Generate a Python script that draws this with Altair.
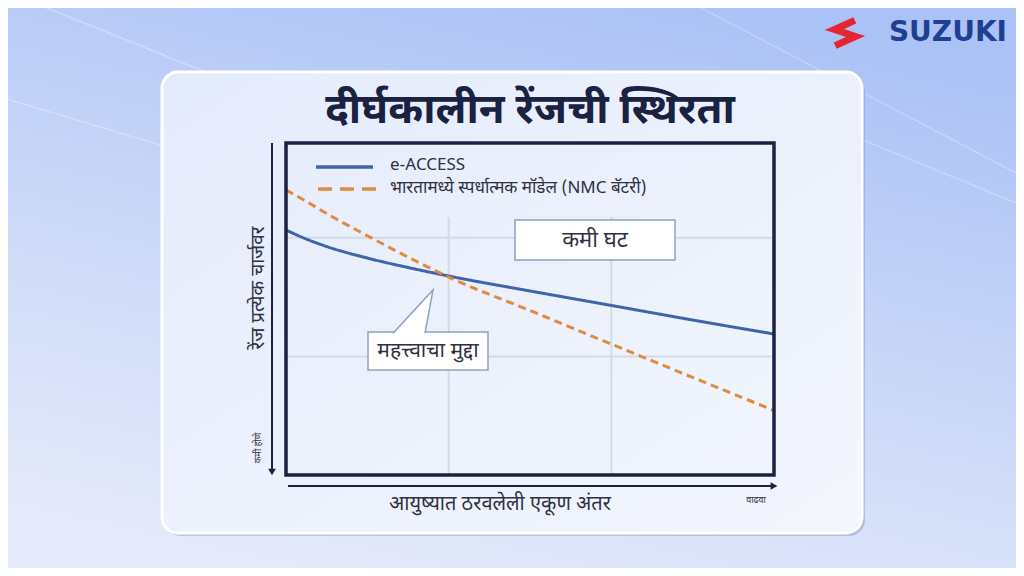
import altair as alt
import pandas as pd

# ---------------- data ----------------
series_names = ["e-ACCESS", "भारतामध्ये स्पर्धात्मक मॉडेल (NMC बॅटरी)"]
distance = [0, 0.125, 0.25, 0.5, 0.75, 1, 1.5, 2, 2.5, 3]
eaccess_range = [2.066, 1.990, 1.927, 1.830, 1.750, 1.678, 1.552, 1.430, 1.307, 1.189]
nmc_range = [2.404, 2.307, 2.205, 2.018, 1.838, 1.669, 1.387, 1.104, 0.823, 0.544]
grid_x = [1, 2]
grid_y = [1, 2]

title_text = "दीर्घकालीन रेंजची स्थिरता"
y_label = "रेंज प्रत्येक चार्जवर"
y_small = "कमी होणे"
x_label = "आयुष्यात ठरवलेली एकूण अंतर"
x_small = "वाढवा"
note_low = "कमी घट"
note_key = "महत्त्वाचा मुद्दा"
brand = "SUZUKI"

# ---------------- style ----------------
W, H = 488, 332
PAD = {"left": 278, "top": 135, "right": 1008 - 278 - W, "bottom": 560 - 135 - H}
FONT = "Noto Sans Devanagari, Noto Sans, sans-serif"
NAVY = "#1b2140"
BLUE = "#3f65a8"
ORANGE = "#e08a3e"
GRID = "#d3dae8"
TXT = "#2f3140"

one = pd.DataFrame({"k": [0]})

rows = []
for d, v in zip(distance, eaccess_range):
    rows.append({"distance": d, "range": v, "series": series_names[0]})
for d, v in zip(distance, nmc_range):
    rows.append({"distance": d, "range": v, "series": series_names[1]})
lines_df = pd.DataFrame(rows)

xs = alt.Scale(domain=[0, 3])
ys = alt.Scale(domain=[0, 2.8])


def box(x, x2, y, y2, **kw):
    return alt.Chart(one).mark_rect(**kw).encode(
        x=alt.value(x), x2=alt.value(x2), y=alt.value(y), y2=alt.value(y2))


def rule(x, x2, y, y2, **kw):
    return alt.Chart(one).mark_rule(**kw).encode(
        x=alt.value(x), x2=alt.value(x2), y=alt.value(y), y2=alt.value(y2))


def text(s, x, y, **kw):
    return alt.Chart(pd.DataFrame({"t": [s]})).mark_text(**kw).encode(
        x=alt.value(x), y=alt.value(y), text="t:N")


bg = box(-278, 730, -135, 425, fill=alt.Gradient(
    gradient="linear",
    stops=[alt.GradientStop(color="#abc2f6", offset=0),
           alt.GradientStop(color="#c9d7f8", offset=0.5),
           alt.GradientStop(color="#e4eafa", offset=1)],
    x1=0.7, y1=0, x2=0.3, y2=1))

streaks = alt.layer(
    rule(-259, 120, -143, 10, color="white", strokeWidth=1.2, opacity=0.35),
    rule(-286, 0, -46, 40, color="white", strokeWidth=1.2, opacity=0.3),
    rule(400, 730, -143, 30, color="white", strokeWidth=1.2, opacity=0.3),
    rule(560, 730, -10, 60, color="white", strokeWidth=1.2, opacity=0.3),
)

shadow = box(-121, 579, -67, 393, fill="#8e9ab3", opacity=0.45, cornerRadius=16)
card = box(-124, 576, -71, 390, cornerRadius=16, stroke="white", strokeWidth=3,
           fill=alt.Gradient(gradient="linear",
                             stops=[alt.GradientStop(color="#e4ebfb", offset=0),
                                    alt.GradientStop(color="#f3f6fd", offset=1)],
                             x1=0, y1=0, x2=1, y2=1))

vgrid = alt.Chart(pd.DataFrame({"distance": grid_x})).mark_rule(
    color=GRID, strokeWidth=2).encode(
    x=alt.X("distance:Q", scale=xs, axis=None), y=alt.value(74), y2=alt.value(H))
hgrid = alt.Chart(pd.DataFrame({"range": grid_y})).mark_rule(
    color=GRID, strokeWidth=2).encode(
    y=alt.Y("range:Q", scale=ys, axis=None), x=alt.value(0), x2=alt.value(W))

lines = alt.Chart(lines_df).mark_line(strokeWidth=3, interpolate="monotone").encode(
    x=alt.X("distance:Q", scale=xs, axis=None),
    y=alt.Y("range:Q", scale=ys, axis=None),
    color=alt.Color("series:N", scale=alt.Scale(domain=series_names, range=[BLUE, ORANGE]),
                    legend=None),
    strokeDash=alt.StrokeDash("series:N",
                              scale=alt.Scale(domain=series_names, range=[[1, 0], [8, 5]]),
                              legend=None),
)

frame = box(0, W, 0, H, fillOpacity=0, stroke=NAVY, strokeWidth=3.5)

legend = alt.layer(
    rule(30, 87, 24, 24, color=BLUE, strokeWidth=3.5),
    rule(32, 90, 46, 46, color=ORANGE, strokeWidth=3.5, strokeDash=[14, 8]),
    text(series_names[0], 104, 22, align="left", baseline="middle", font=FONT,
         fontSize=17, color=TXT),
    text(series_names[1], 104, 45, align="left", baseline="middle", font=FONT,
         fontSize=17, color=TXT),
)

callout_low = alt.layer(
    box(229, 389, 77, 117, fill="white", stroke="#8fa2c2", strokeWidth=1.5),
    text(note_low, 309, 97, align="center", baseline="middle", font=FONT,
         fontSize=22, color=TXT),
)

callout_key = alt.layer(
    box(82, 202, 189, 227, fill="white", stroke="#8fa2c2", strokeWidth=1.5),
    alt.Chart(one).mark_point(
        shape="M-0.952,1.06 L0.952,-1 L0.571,1.06", filled=True, fill="white",
        stroke="#8fa2c2", strokeWidth=1.5, opacity=1, size=1764).encode(
        x=alt.value(127), y=alt.value(168)),
    text(note_key, 142, 208, align="center", baseline="middle", font=FONT,
         fontSize=21, color=TXT),
)

arrows = alt.layer(
    rule(-14, -14, 0, 327, color=NAVY, strokeWidth=2),
    alt.Chart(one).mark_point(shape="triangle-down", filled=True, color=NAVY,
                              opacity=1, size=60).encode(x=alt.value(-14), y=alt.value(329)),
    rule(2, 486, 343, 343, color=NAVY, strokeWidth=2),
    alt.Chart(one).mark_point(shape="triangle-right", filled=True, color=NAVY,
                              opacity=1, size=60).encode(x=alt.value(488), y=alt.value(343)),
)

labels = alt.layer(
    text(title_text, 244, -33, align="center", baseline="middle", font=FONT,
         fontSize=42, fontWeight="bold", color=NAVY),
    text(y_label, -28, 145, align="center", baseline="middle", font=FONT,
         fontSize=19, angle=270, color=TXT),
    text(y_small, -28, 305, align="center", baseline="middle", font=FONT,
         fontSize=9, angle=270, color=TXT),
    text(x_label, 214, 361, align="center", baseline="middle", font=FONT,
         fontSize=20, color=TXT),
    text(x_small, 470, 357, align="center", baseline="middle", font=FONT,
         fontSize=9, color=TXT),
)

logo = alt.layer(
    alt.Chart(one).mark_point(
        shape="M0.7,-0.9 L-0.75,-0.25 L0.75,0.25 L-0.7,0.9", filled=False,
        stroke="#e3262f", strokeWidth=7, strokeJoin="miter", opacity=1, size=784).encode(
        x=alt.value(559), y=alt.value(-110)),
    text(brand, 721, -110, align="right", baseline="middle",
         font="DejaVu Sans", fontSize=28, fontWeight=900, color="#1f3f91"),
)

chart = alt.layer(
    bg, streaks, shadow, card, vgrid, hgrid, lines, frame, legend,
    callout_low, callout_key, arrows, labels, logo
).properties(
    width=W, height=H, padding=PAD,
    autosize=alt.AutoSizeParams(type="none"),
).configure_view(stroke=None)

chart.save("out.html", embed_options={"renderer": "svg", "actions": False})
